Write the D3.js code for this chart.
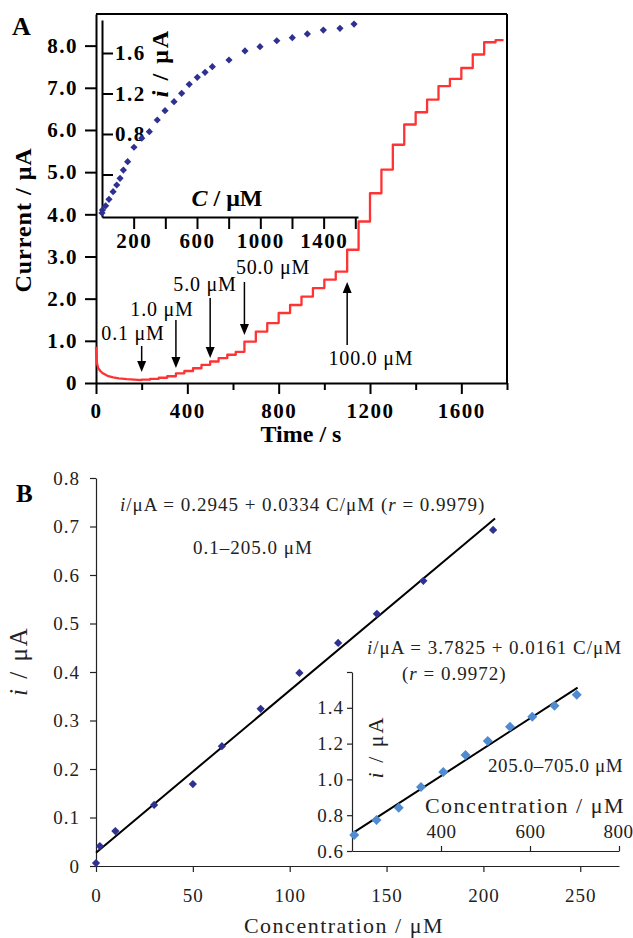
<!DOCTYPE html>
<html lang="en">
<head>
<meta charset="UTF-8">
<script src="https://cdn.jsdelivr.net/npm/d3@7"></script>
<style>
  body { margin: 0; background: #fff; }
  svg text { font-family: "Liberation Serif", "Times New Roman", serif; }
</style>
</head>
<body>
<div id="chart"></div>
<script>
// ---------------- data, panel A (current vs time) ----------------
var decayT = [0, 1, 3, 5, 10, 18, 30, 50, 75, 100, 135, 200];
var decayI = [0.86, 0.7, 0.55, 0.45, 0.35, 0.29, 0.23, 0.17, 0.135, 0.11, 0.09, 0.07];
var stepT = [200, 237, 275, 312, 350, 387, 425, 462, 500, 537, 575, 612,
             650, 700, 750, 800, 850, 900, 950, 1000, 1050,
             1100, 1150, 1200, 1250, 1300, 1350, 1400, 1450, 1500, 1550, 1600, 1650, 1700, 1750];
var stepI = [0.08, 0.10, 0.125, 0.16, 0.23, 0.285, 0.35, 0.43, 0.51, 0.59, 0.67, 0.74,
             0.98, 1.22, 1.42, 1.66, 1.85, 2.05, 2.25, 2.45, 2.64,
             3.16, 3.83, 4.50, 5.06, 5.65, 6.13, 6.42, 6.72, 7.04, 7.21, 7.47, 7.79, 8.08, 8.13];
var endT = 1785;

// inset of panel A (i vs C)
var insetC = [0, 3, 23, 44, 70, 93, 114, 135, 162, 202, 251, 299, 349, 398, 455, 503, 551,
              602, 651, 697, 802, 903, 998, 1104, 1202, 1297, 1398, 1503, 1592];
var insetI = [0.02, 0.05, 0.09, 0.155, 0.23, 0.296, 0.362, 0.444, 0.526, 0.669, 0.758, 0.823, 0.938,
              1.030, 1.119, 1.202, 1.291, 1.360, 1.409, 1.465, 1.531, 1.620, 1.662, 1.721,
              1.751, 1.788, 1.827, 1.844, 1.886];

// additions marked by arrows
var arrowT = [200, 350, 500, 650, 1100];
var arrowText = ["0.1 μM", "1.0 μM", "5.0 μM", "50.0 μM", "100.0 μM"];

// ---------------- data, panel B (calibration) ----------------
var calC = [0, 2, 10, 30, 50, 65, 85, 105, 125, 145, 169, 205];
var calI = [0.006, 0.041, 0.072, 0.126, 0.169, 0.247, 0.324, 0.398, 0.46, 0.52, 0.588, 0.693];
var cal2C = [205, 255, 305, 355, 405, 455, 505, 555, 605, 655, 705];
var cal2I = [0.690, 0.773, 0.841, 0.958, 1.042, 1.137, 1.215, 1.294, 1.350, 1.411, 1.473];

// ---------------- tick values ----------------
var aYTicks = [0, 1, 2, 3, 4, 5, 6, 7, 8];
var aXTicks = [0, 200, 400, 600, 800, 1000, 1200, 1400, 1600, 1800];
var aXLabels = [0, 400, 800, 1200, 1600];
var aInXTicks = [200, 400, 600, 800, 1000, 1200, 1400, 1600];
var aInXLabels = [200, 600, 1000, 1400];
var aInYTicks = [0.4, 0.8, 1.2, 1.6];
var aInYLabels = [0.8, 1.2, 1.6];
var bYTicks = [0, 0.1, 0.2, 0.3, 0.4, 0.5, 0.6, 0.7, 0.8];
var bXTicks = [0, 50, 100, 150, 200, 250];
var bInYTicks = [0.6, 0.8, 1.0, 1.2, 1.4, 1.6];
var bInYLabels = [0.6, 0.8, 1.0, 1.2, 1.4];
var bInXTicks = [400, 600, 800];

//---------------------------------------------------------------------
var svg = d3.select("#chart").append("svg")
    .attr("width", 633).attr("height", 938);

function fmt1(d) { return d === 0 ? "0" : d.toFixed(1); }

function styleAxis(g, sw, fs, fw, ls, color) {
    g.attr("font-family", null).attr("font-size", null);
    g.select(".domain").attr("stroke", color).attr("stroke-width", sw);
    g.selectAll(".tick line").attr("stroke", color).attr("stroke-width", sw);
    g.selectAll(".tick text").attr("fill", color)
        .style("font-size", fs + "px").style("font-weight", fw)
        .style("letter-spacing", ls + "px");
}

// text made of parts: [string, italic?]
function rich(parent, x, y, parts, o) {
    var t = parent.append("text")
        .attr("x", x).attr("y", y)
        .attr("text-anchor", o.anchor || "start")
        .attr("fill", o.color || "#000")
        .style("font-size", o.size + "px")
        .style("font-weight", o.weight || "normal")
        .style("letter-spacing", (o.ls || 0) + "px");
    if (o.rotate) t.attr("transform", "rotate(-90," + x + "," + y + ")");
    parts.forEach(function(p) {
        t.append("tspan").text(p[0]).style("font-style", p[1] ? "italic" : "normal");
    });
    return t;
}

function diamonds(g, xs, ys, sx, sy, size, color) {
    var sym = d3.symbol().type(d3.symbolSquare).size(size);
    g.selectAll(null).data(d3.range(xs.length)).enter().append("path")
        .attr("d", sym)
        .attr("fill", color)
        .attr("transform", function(i) {
            return "translate(" + sx(xs[i]) + "," + sy(ys[i]) + ") rotate(45)";
        });
}

function fit(xs, ys) {
    var mx = d3.mean(xs), my = d3.mean(ys), sxy = 0, sxx = 0;
    xs.forEach(function(x, i) { sxy += (x - mx) * (ys[i] - my); sxx += (x - mx) * (x - mx); });
    var b = sxy / sxx;
    return { a: my - b * mx, b: b };
}

// ===================== PANEL A =====================
var xA = d3.scaleLinear().domain([0, 1800]).range([96, 507]);
var yA = d3.scaleLinear().domain([0, 8.75]).range([383, 14]);
var gA = svg.append("g");

// frame
gA.append("line").attr("x1", 96).attr("x2", 507).attr("y1", 14).attr("y2", 14)
    .attr("stroke", "#000").attr("stroke-width", 2);
gA.append("line").attr("x1", 507).attr("x2", 507).attr("y1", 14).attr("y2", 383)
    .attr("stroke", "#000").attr("stroke-width", 2);

var ayAxis = gA.append("g").attr("transform", "translate(96,0)")
    .call(d3.axisLeft(yA).tickValues(aYTicks).tickFormat(fmt1)
        .tickSize(11).tickPadding(7).tickSizeOuter(0));
styleAxis(ayAxis, 2, 21, "bold", 1.5, "#000");

var axAxis = gA.append("g").attr("transform", "translate(0,383)")
    .call(d3.axisBottom(xA).tickValues(aXTicks)
        .tickFormat(function(d) { return aXLabels.indexOf(d) >= 0 ? d : ""; })
        .tickSize(11).tickPadding(9).tickSizeOuter(0));
styleAxis(axAxis, 2, 21, "bold", 1.5, "#000");
axAxis.selectAll(".tick").filter(function(d) { return aXLabels.indexOf(d) < 0; })
    .select("line").attr("y2", 7);

// current trace
var trace = [];
decayT.forEach(function(t, i) { trace.push([t, decayI[i]]); });
var prev = decayI[decayI.length - 1];
stepT.forEach(function(t, i) {
    trace.push([t, prev]);
    trace.push([t, stepI[i]]);
    prev = stepI[i];
});
trace.push([endT, prev]);

gA.append("path").datum(trace)
    .attr("fill", "none").attr("stroke", "#ff3333").attr("stroke-width", 2.3)
    .attr("stroke-linejoin", "round")
    .attr("d", d3.line().x(function(d) { return xA(d[0]); }).y(function(d) { return yA(d[1]); }));

// arrows (layout in pixels)
var arrowLayout = [
    { tail: 346, tip: 372, lx: 133, ly: 340 },
    { tail: 320, tip: 368, lx: 162, ly: 316 },
    { tail: 298, tip: 358, lx: 205, ly: 291 },
    { tail: 282, tip: 335, lx: 273, ly: 274 },
    { tail: 345, tip: 282, lx: 371, ly: 365 }
];
arrowT.forEach(function(t, i) {
    var L = arrowLayout[i], x = xA(t);
    var dir = L.tip > L.tail ? 1 : -1, head = 11;
    gA.append("line").attr("x1", x).attr("x2", x)
        .attr("y1", L.tail).attr("y2", L.tip - dir * head)
        .attr("stroke", "#000").attr("stroke-width", 1.5);
    gA.append("path")
        .attr("d", "M" + x + "," + L.tip + "L" + (x - 4.5) + "," + (L.tip - dir * head) +
            "L" + (x + 4.5) + "," + (L.tip - dir * head) + "Z")
        .attr("fill", "#000");
    rich(gA, L.lx, L.ly, [[arrowText[i], false]], { size: 20, anchor: "middle", ls: 0.8 });
});

// inset
var xIn = d3.scaleLinear().domain([0, 1617]).range([102, 358]);
var yIn = d3.scaleLinear().domain([-0.02, 1.926]).range([217, 20]);

var inX = gA.append("g").attr("transform", "translate(0,217)")
    .call(d3.axisBottom(xIn).tickValues(aInXTicks)
        .tickFormat(function(d) { return aInXLabels.indexOf(d) >= 0 ? d : ""; })
        .tickSize(12).tickPadding(4).tickSizeOuter(0));
styleAxis(inX, 2, 21, "bold", 1.5, "#000");

var inY = gA.append("g").attr("transform", "translate(102,0)")
    .call(d3.axisRight(yIn).tickValues(aInYTicks)
        .tickFormat(function(d) { return aInYLabels.indexOf(d) >= 0 ? d.toFixed(1) : ""; })
        .tickSize(11).tickPadding(2).tickSizeOuter(0));
styleAxis(inY, 2, 21, "bold", 1.5, "#000");

diamonds(gA, insetC, insetI, xIn, yIn, 26, "#2e3092");

rich(gA, 227, 206, [["C", true], [" / μM", false]], { size: 24, weight: "bold", anchor: "middle" });
rich(gA, 168, 63, [["i", true], [" / μA", false]], { size: 24, weight: "bold", anchor: "middle", rotate: true, ls: 2 });

// titles
rich(gA, 31, 220, [["Current / μA", false]], { size: 24, weight: "bold", anchor: "middle", rotate: true, ls: 1 });
rich(gA, 301, 442, [["Time / s", false]], { size: 24, weight: "bold", anchor: "middle" });
rich(gA, 12, 35, [["A", false]], { size: 26, weight: "bold" });

// ===================== PANEL B =====================
var xB = d3.scaleLinear().domain([0, 270]).range([96, 619]);
var yB = d3.scaleLinear().domain([0, 0.8]).range([866, 478]);
var gB = svg.append("g");
var ink = "#222";

var byAxis = gB.append("g").attr("transform", "translate(96,0)")
    .call(d3.axisLeft(yB).tickValues(bYTicks).tickFormat(fmt1)
        .tickSize(6).tickPadding(10).tickSizeOuter(0));
styleAxis(byAxis, 1.2, 19, "normal", 1, ink);

var bxAxis = gB.append("g").attr("transform", "translate(0,866)")
    .call(d3.axisBottom(xB).tickValues(bXTicks)
        .tickSize(6).tickPadding(17).tickSizeOuter(0));
styleAxis(bxAxis, 1.2, 19, "normal", 1, ink);

var f1 = fit(calC, calI);
var c0 = d3.min(calC), c1 = d3.max(calC) + 1;
gB.append("line")
    .attr("x1", xB(c0)).attr("y1", yB(f1.a + f1.b * c0))
    .attr("x2", xB(c1)).attr("y2", yB(f1.a + f1.b * c1))
    .attr("stroke", "#000").attr("stroke-width", 2);
diamonds(gB, calC, calI, xB, yB, 34, "#2e3192");

rich(gB, 120, 511, [["i", true], ["/μA = 0.2945 + 0.0334 C/μM (", false], ["r", true], [" = 0.9979)", false]],
    { size: 19, ls: 1, color: ink });
rich(gB, 193, 554, [["0.1–205.0 μM", false]], { size: 19, ls: 1, color: ink });

rich(gB, 344, 933, [["Concentration / μM", false]], { size: 22, anchor: "middle", ls: 1.5, color: ink });
rich(gB, 27, 661, [["i", true], [" / μA", false]], { size: 25, anchor: "middle", rotate: true, ls: 2, color: ink });
rich(gB, 16, 502, [["B", false]], { size: 25, weight: "bold" });

// inset of panel B
var xB2 = d3.scaleLinear().domain([200, 800]).range([352, 619]);
var yB2 = d3.scaleLinear().domain([0.6, 1.6]).range([851, 672]);

var b2y = gB.append("g").attr("transform", "translate(352,0)")
    .call(d3.axisLeft(yB2).tickValues(bInYTicks)
        .tickFormat(function(d) { return bInYLabels.indexOf(d) >= 0 ? d.toFixed(1) : ""; })
        .tickSize(5).tickPadding(3).tickSizeOuter(0));
styleAxis(b2y, 1.2, 19, "normal", 1, ink);

var b2x = gB.append("g").attr("transform", "translate(0,851)")
    .call(d3.axisTop(xB2).tickValues(bInXTicks)
        .tickSize(5).tickPadding(8).tickSizeOuter(0));
styleAxis(b2x, 1.2, 19, "normal", 0.5, ink);
// keep the last label inside the page
b2x.selectAll(".tick text").filter(function(d) { return d === 800; })
    .attr("text-anchor", "end").attr("x", 14);

var f2 = fit(cal2C, cal2I);
var d0 = d3.min(cal2C), d1 = d3.max(cal2C) + 2;
gB.append("line")
    .attr("x1", xB2(d0)).attr("y1", yB2(f2.a + f2.b * d0))
    .attr("x2", xB2(d1)).attr("y2", yB2(f2.a + f2.b * d1))
    .attr("stroke", "#000").attr("stroke-width", 2);
diamonds(gB, cal2C, cal2I, xB2, yB2, 50, "#4f8bd0");

rich(gB, 367, 654, [["i", true], ["/μA = 3.7825 + 0.0161  C/μM", false]], { size: 19, ls: 1, color: ink });
rich(gB, 402, 680, [["(", false], ["r", true], [" = 0.9972)", false]], { size: 19, ls: 1, color: ink });
rich(gB, 488, 772, [["205.0–705.0 μM", false]], { size: 19, ls: 0.6, color: ink });
rich(gB, 525, 813, [["Concentration / μM", false]], { size: 22, anchor: "middle", ls: 1.5, color: ink });
rich(gB, 383, 747, [["i", true], [" / μA", false]], { size: 22, anchor: "middle", rotate: true, ls: 2, color: ink });
</script>
</body>
</html>
